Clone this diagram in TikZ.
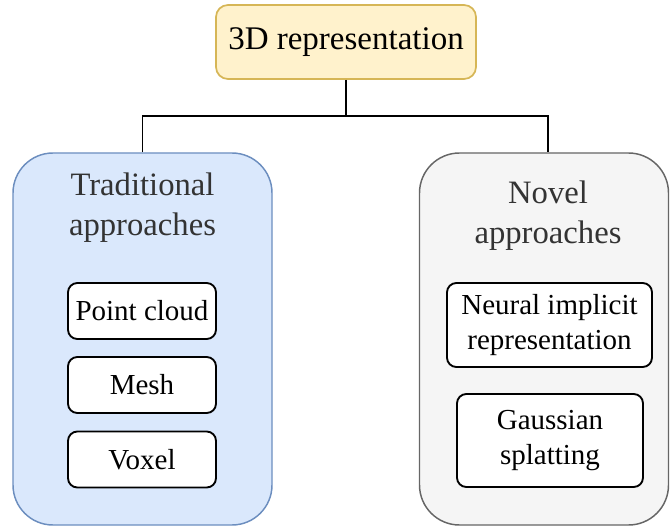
\documentclass[tikz,border=0pt]{standalone}
\usepackage{fontspec}
\setmainfont{Liberation Serif}
\usetikzlibrary{calc}
\definecolor{topfill}{HTML}{FFF2CC}
\definecolor{topdraw}{HTML}{D6B656}
\definecolor{bluefill}{HTML}{DAE8FC}
\definecolor{bluedraw}{HTML}{6C8EBF}
\definecolor{grayfill}{HTML}{F5F5F5}
\definecolor{graydraw}{HTML}{666666}
\definecolor{titletext}{HTML}{333333}
\tikzset{
  topbox/.style={draw=topdraw, fill=topfill, line width=1.3pt, rounded corners=9pt,
    minimum width=260*0.75pt, minimum height=74*0.75pt, inner sep=0pt,
    font=\fontsize{24.75}{29}\selectfont},
  container/.style={line width=1.1pt, rounded corners=30pt, inner sep=0pt},
  title/.style={align=center, text=titletext, font=\fontsize{24.5}{30}\selectfont, inner sep=0pt},
  itembox/.style={draw=black, fill=white, line width=1.4pt, rounded corners=7pt, inner sep=0pt,
    align=center, font=\fontsize{21.75}{26}\selectfont},
  conn/.style={draw=black, line width=1.4pt}
}
\begin{document}
\begin{tikzpicture}[x=0.75pt,y=-0.75pt]
\useasboundingbox (0,0) rectangle (670,527);
% top
\node[topbox] (top) at (346,42) {3D representation};
% containers
\node[container, draw=bluedraw, fill=bluefill, minimum width=259*0.75pt, minimum height=372*0.75pt] (trad) at (142.5,339) {};
\node[container, draw=graydraw, fill=grayfill, minimum width=249*0.75pt, minimum height=372*0.75pt] (novel) at (544,339) {};
% titles
\node[title] (tradt) at (142.5,208) {Traditional\\approaches};
\node[title] (novelt) at (548,216) {Novel\\approaches};
% items
\node[itembox, minimum width=148*0.75pt, minimum height=56*0.75pt] (pc) at (142,311) {Point cloud};
\node[itembox, minimum width=148*0.75pt, minimum height=56*0.75pt] (mesh) at (142,385) {Mesh};
\node[itembox, minimum width=148*0.75pt, minimum height=56*0.75pt] (vox) at (142,459.5) {Voxel};
\node[itembox, minimum width=205*0.75pt, minimum height=84*0.75pt] (nir) at (549.5,325) {Neural implicit\\representation};
\node[itembox, minimum width=186*0.75pt, minimum height=93*0.75pt] (gs) at (550,440.5) {Gaussian\\splatting};
% connectors
\coordinate (j) at (346,116);
\coordinate (rn) at ($(novel.north)+(4,0)$);
\draw[conn] (top.south) -- (j);
\draw[conn] (trad.north) |- (j) -| (rn);
\end{tikzpicture}
\end{document}
